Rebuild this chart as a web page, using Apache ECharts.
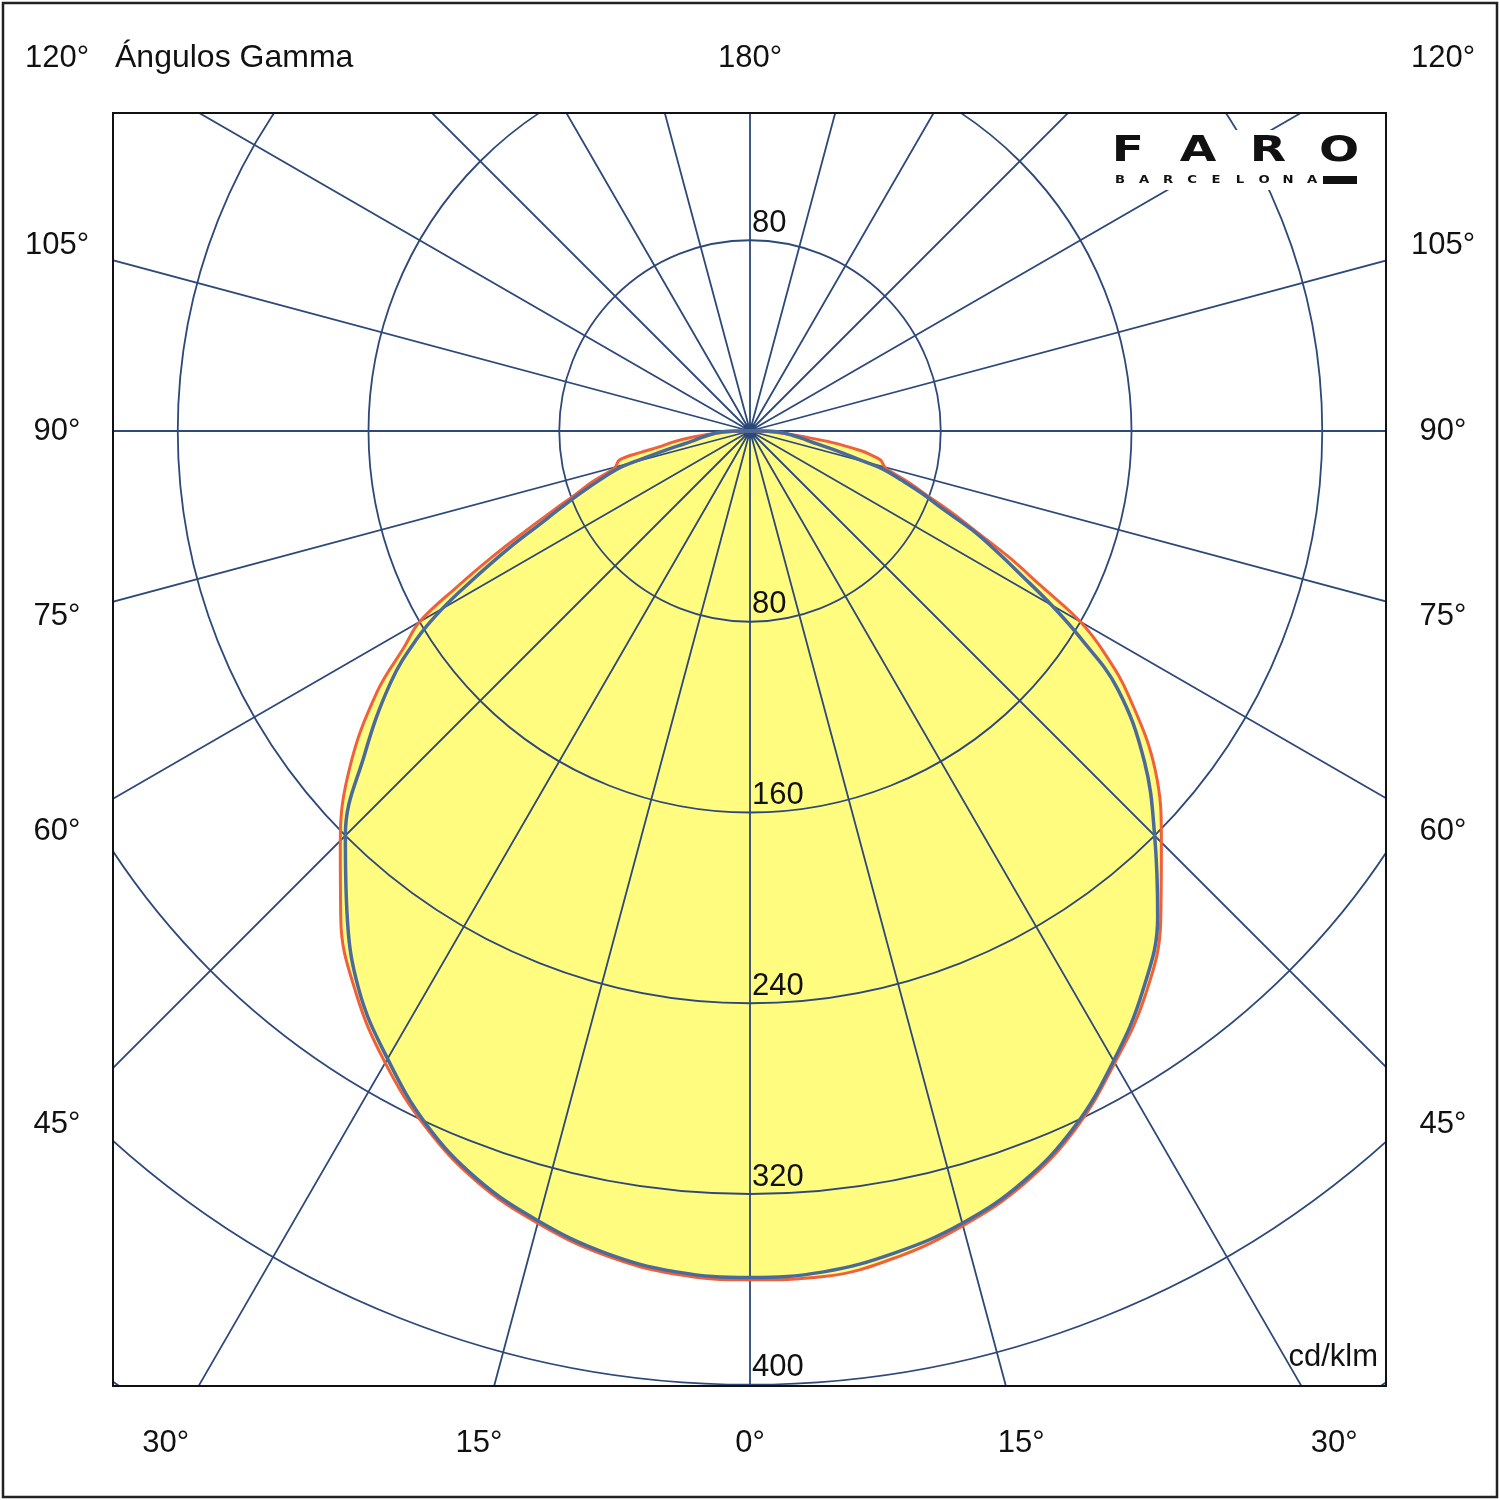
<!DOCTYPE html>
<html>
<head>
<meta charset="utf-8">
<title>Ángulos Gamma</title>
<script src="https://cdn.jsdelivr.net/npm/echarts@6/dist/echarts.min.js"></script>
<style>
  html, body { margin: 0; padding: 0; background: #fff; }
  #chart { width: 1500px; height: 1500px; }
</style>
</head>
<body>
<div id="chart"></div>
<script>
// gamma angles (deg) at which the two curves were read
const gamma = [0, 5, 10, 15, 20, 25, 30, 35, 40, 45, 50, 55, 58, 60, 62, 64, 66, 68, 70, 72, 74, 75, 77.5, 79, 80, 82, 84, 86, 88, 90, 92];

// cd/klm, blue curve
const blueLeft = [355, 354, 350, 343, 334, 321, 304, 286, 263, 240, 211, 184, 165, 149, 130, 113, 97, 85, 75, 66, 58, 51, 35, 28, 25, 21, 18, 15, 12, 7, 0];
const blueRight = [355, 354, 350, 344, 335, 322, 305, 287, 266, 240, 216, 188, 163, 146, 129, 115, 102, 87, 77, 67, 58, 50, 36, 29, 26, 22, 18, 15, 12, 7, 0];

// cd/klm, red curve
const redLeft = [356, 355, 351, 344, 335, 322, 306, 288, 267, 243, 219, 191, 171, 160, 139, 120, 103, 89, 78, 70, 61, 58.5, 56, 46, 39, 32, 24, 15, 8, 3, 0];
const redRight = [356, 356, 352, 345, 336, 323, 306, 289, 268, 244, 222, 194, 175, 160, 138, 121, 104, 91, 79, 70, 61, 58.5, 56, 51, 47, 35, 22, 14, 8, 3, 0];

// ring labels
const ringLabels = [80, 160, 240, 320, 400];
// angle labels
const sideTicks = [45, 60, 75, 90, 105];
const bottomTicks = [0, 15, 30];

const FONT = '"Liberation Sans", Arial, sans-serif';
const GRID = '#2d487a';
const CX = 750, CY = 431;

// right half goes to negative angles, left half positive
function buildCurve(left, right) {
    const pts = [];
    for (let i = right.length - 1; i >= 1; i--) pts.push([right[i], -gamma[i]]);
    for (let i = 0; i < left.length; i++) pts.push([left[i], gamma[i]]);
    return pts;
}

const redPts = buildCurve(redLeft, redRight);
const bluePts = buildCurve(blueLeft, blueRight);

function label(text, x, y, align, size) {
    return {
        type: 'text', x: x, y: y, z: 110,
        style: {
            text: text, fill: '#111', font: (size || 31) + 'px ' + FONT,
            textAlign: align || 'center', textVerticalAlign: 'middle'
        }
    };
}

const elements = [
    // white masks outside the frame
    { type: 'rect', z: 100, shape: { x: 0, y: 0, width: 1500, height: 112 }, style: { fill: '#fff' } },
    { type: 'rect', z: 100, shape: { x: 0, y: 1387, width: 1500, height: 113 }, style: { fill: '#fff' } },
    { type: 'rect', z: 100, shape: { x: 0, y: 0, width: 112, height: 1500 }, style: { fill: '#fff' } },
    { type: 'rect', z: 100, shape: { x: 1387, y: 0, width: 113, height: 1500 }, style: { fill: '#fff' } },
    { type: 'rect', z: 105, shape: { x: 113, y: 113, width: 1273, height: 1273 }, style: { fill: null, stroke: '#111', lineWidth: 2 } },
    { type: 'rect', z: 105, shape: { x: 3, y: 3, width: 1494, height: 1494 }, style: { fill: null, stroke: '#222', lineWidth: 2.5 } },
    // logo
    { type: 'rect', z: 100, shape: { x: 1104, y: 130, width: 262, height: 60 }, style: { fill: '#fff' } },
    { type: 'rect', z: 106, shape: { x: 1323, y: 176, width: 34, height: 8 }, style: { fill: '#111' } }
];

['F', 'A', 'R', 'O'].forEach(function (ch, i) {
    const xs = [1128, 1198, 1268, 1339];
    elements.push({
        type: 'text', x: xs[i], y: 152, z: 106, scaleX: 1.35,
        style: { text: ch, fill: '#111', font: 'bold 35px "DejaVu Sans", sans-serif', textAlign: 'center', textVerticalAlign: 'middle' }
    });
});
'BARCELONA'.split('').forEach(function (ch, i) {
    elements.push({
        type: 'text', x: 1120 + i * 24, y: 180.5, z: 106, scaleX: 1.2,
        style: { text: ch, fill: '#111', font: 'bold 11px "DejaVu Sans", sans-serif', textAlign: 'center', textVerticalAlign: 'middle' }
    });
});

// top row
elements.push(label('120°', 57, 58));
elements.push(label('120°', 1443, 58));
elements.push(label('180°', CX, 58));
elements.push(label('Ángulos Gamma', 115, 58, 'left', 32));
elements.push(label('cd/klm', 1378, 1357, 'right'));

// side labels: where each gamma ray meets the label columns
sideTicks.forEach(function (g) {
    const y = CY + 693 / Math.tan(g * Math.PI / 180);
    elements.push(label(g + '°', CX - 693, y));
    elements.push(label(g + '°', CX + 693, y));
});
// bottom labels
bottomTicks.forEach(function (g) {
    const dx = 1012 * Math.tan(g * Math.PI / 180);
    elements.push(label(g + '°', CX - dx, 1443));
    if (g > 0) elements.push(label(g + '°', CX + dx, 1443));
});

const chart = echarts.init(document.getElementById('chart'));
chart.setOption({
    animation: false,
    backgroundColor: '#fff',
    polar: { center: [CX, CY], radius: 1144.5 },
    angleAxis: {
        type: 'value', min: -180, max: 180, interval: 15,
        startAngle: 90, clockwise: true, z: 5,
        axisLine: { show: false }, axisTick: { show: false }, axisLabel: { show: false },
        splitLine: { show: true, lineStyle: { color: GRID, width: 1.8 } }
    },
    radiusAxis: {
        type: 'value', min: 0, max: 480, interval: 80, z: 5,
        axisLine: { show: false }, axisTick: { show: false }, axisLabel: { show: false },
        splitLine: { show: true, lineStyle: { color: GRID, width: 1.8 } }
    },
    series: [
        {
            type: 'line', coordinateSystem: 'polar', data: redPts, smooth: 0.4, symbol: 'none', z: 2, silent: true,
            lineStyle: { width: 0, opacity: 0 }, areaStyle: { color: '#fffc80', opacity: 1 }
        },
        {
            type: 'line', coordinateSystem: 'polar', data: bluePts, smooth: 0.4, symbol: 'none', z: 2, silent: true,
            lineStyle: { width: 0, opacity: 0 }, areaStyle: { color: '#fffc80', opacity: 1 }
        },
        {
            type: 'line', coordinateSystem: 'polar', data: redPts, smooth: 0.4, symbol: 'none', z: 10,
            lineStyle: { color: '#f0603a', width: 3 }
        },
        {
            type: 'line', coordinateSystem: 'polar', data: bluePts, smooth: 0.4, symbol: 'none', z: 11,
            lineStyle: { color: '#4a6a9c', width: 3.5 }
        }
    ],
    graphic: { elements: elements }
});

// ring values, placed through the polar scale: along 0° and once along 180°
const ringData = ringLabels.map(v => [v, 0]).concat([[ringLabels[0], 180]]);
ringData.forEach(function (d) {
    const p = chart.convertToPixel({ polarIndex: 0 }, d);
    elements.push(label(String(d[0]), p[0] + 2, p[1] - 17, 'left'));
});
chart.setOption({ graphic: { elements: elements } });
</script>
</body>
</html>
